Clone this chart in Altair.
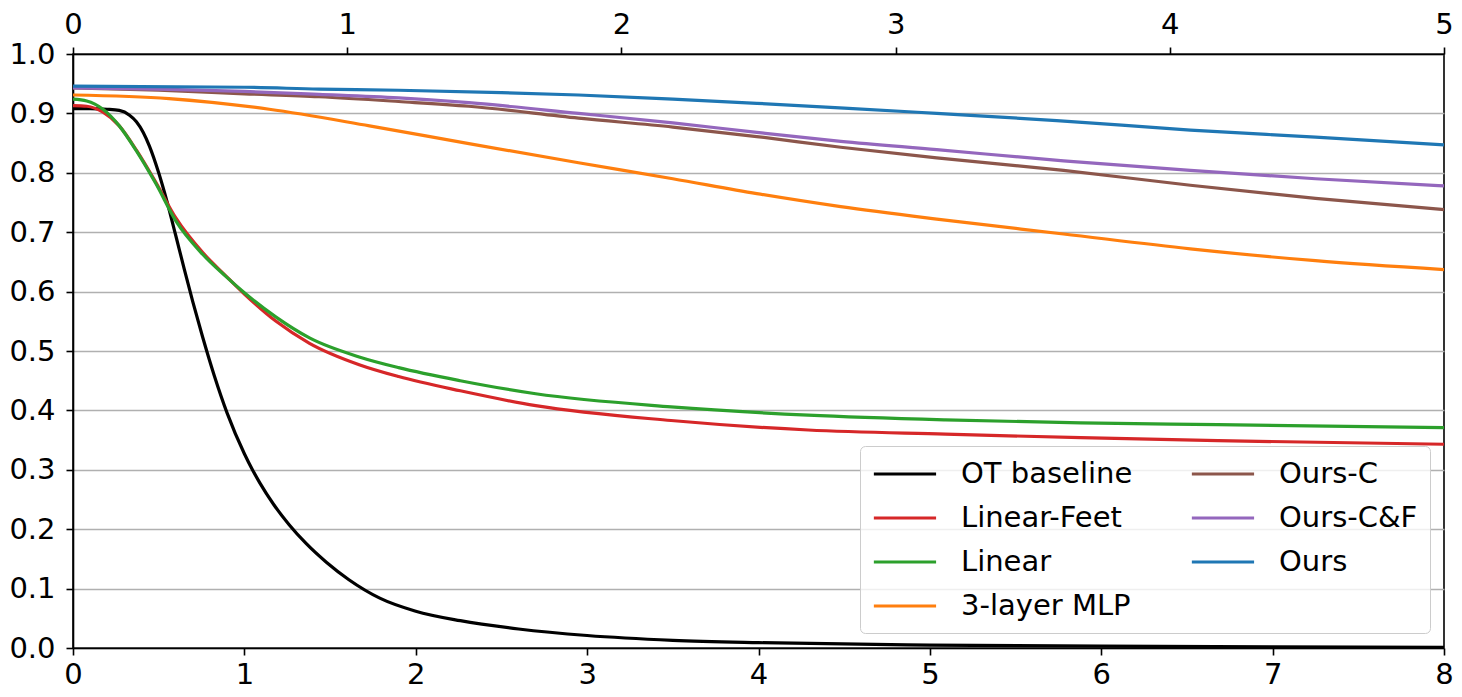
import altair as alt
import pandas as pd

# ---- data ----
series_names = ["OT baseline", "Linear-Feet", "Linear", "3-layer MLP", "Ours-C", "Ours-C&F", "Ours"]
series_colors = ["#000000", "#d62728", "#2ca02c", "#ff7f0e", "#8c564b", "#9467bd", "#1f77b4"]

ot_x = [0, 0.1, 0.2, 0.27, 0.33, 0.37, 0.41, 0.446, 0.5, 0.55, 0.60, 0.65, 0.70, 0.756, 0.825,
        0.90, 1.0, 1.047, 1.09, 1.17, 1.26, 1.36, 1.48, 1.61, 1.79, 2.0, 2.26, 2.6, 3.0, 3.5,
        4.0, 5.0, 6.0, 7.0, 8.0]
ot_y = [0.908, 0.908, 0.907, 0.905, 0.897, 0.886, 0.868, 0.845, 0.800, 0.750, 0.694, 0.637, 0.582,
        0.524, 0.458, 0.395, 0.327, 0.300, 0.278, 0.242, 0.208, 0.176, 0.144, 0.115, 0.084, 0.062,
        0.046, 0.032, 0.021, 0.013, 0.009, 0.005, 0.003, 0.002, 0.001]

lin_x = [0, 0.08, 0.175, 0.27, 0.37, 0.485, 0.60, 0.756, 0.89, 1.0, 1.185, 1.38, 1.67, 1.90,
         2.26, 2.70, 3.49, 4.29, 5.09, 5.88, 6.68, 8.0]
linfeet_y = [0.913, 0.912, 0.902, 0.879, 0.838, 0.783, 0.724, 0.666, 0.627, 0.596, 0.550, 0.513,
             0.477, 0.457, 0.433, 0.408, 0.383, 0.367, 0.360, 0.354, 0.349, 0.343]
linear_y = [0.924, 0.921, 0.907, 0.879, 0.837, 0.781, 0.719, 0.663, 0.626, 0.598, 0.557, 0.522,
            0.490, 0.472, 0.450, 0.428, 0.406, 0.392, 0.384, 0.379, 0.376, 0.371]

mlp_x = [0, 0.56, 1.145, 1.73, 2.31, 2.95, 3.5, 3.99, 4.48, 5.04, 5.78, 6.52, 7.25, 8.0]
mlp_y = [0.931, 0.925, 0.907, 0.879, 0.849, 0.817, 0.790, 0.765, 0.743, 0.722, 0.697, 0.672, 0.652, 0.637]

oursc_x = [0, 0.5, 1.0, 1.435, 1.9, 2.31, 2.95, 3.5, 3.99, 4.48, 5.04, 5.78, 6.52, 7.25, 8.0]
oursc_y = [0.943, 0.939, 0.933, 0.928, 0.920, 0.912, 0.892, 0.877, 0.861, 0.843, 0.825, 0.804,
           0.779, 0.757, 0.738]
ourscf_y = [0.943, 0.941, 0.937, 0.932, 0.926, 0.918, 0.900, 0.884, 0.868, 0.853, 0.839, 0.820,
            0.804, 0.790, 0.778]

ours_x = [0, 1.0, 1.435, 1.9, 2.5, 2.95, 3.5, 3.99, 4.5, 5.04, 5.74, 6.52, 7.25, 8.0]
ours_y = [0.946, 0.944, 0.941, 0.939, 0.935, 0.931, 0.924, 0.917, 0.909, 0.900, 0.888, 0.872,
          0.860, 0.847]

bottom_ticks = [0, 1, 2, 3, 4, 5, 6, 7, 8]
top_ticks = [0, 1, 2, 3, 4, 5]
y_ticks = [0.0, 0.1, 0.2, 0.3, 0.4, 0.5, 0.6, 0.7, 0.8, 0.9, 1.0]

# ---- build long table ----
pairs = {
    "OT baseline": (ot_x, ot_y),
    "Linear-Feet": (lin_x, linfeet_y),
    "Linear": (lin_x, linear_y),
    "3-layer MLP": (mlp_x, mlp_y),
    "Ours-C": (oursc_x, oursc_y),
    "Ours-C&F": (oursc_x, ourscf_y),
    "Ours": (ours_x, ours_y),
}
rows = []
for name in series_names:
    xs, ys = pairs[name]
    for xv, yv in zip(xs, ys):
        rows.append({"x": xv, "y": yv, "series": name})
df = pd.DataFrame(rows)

color_scale = alt.Scale(domain=series_names, range=series_colors)

legend = alt.Legend(
    title=None, orient="none", legendX=787, legendY=392, direction="vertical", columns=2,
    symbolType="M-1,0H3.4", symbolStrokeWidth=3, symbolSize=800, symbolOpacity=1,
    labelFont="DejaVu Sans", labelFontSize=29, labelColor="black", labelOffset=57, labelLimit=500,
    rowPadding=13, columnPadding=52, padding=12,
    strokeColor="#cccccc", fillColor="rgba(255,255,255,0.8)", cornerRadius=5,
)

x_axis = alt.Axis(values=bottom_ticks, grid=False, labelFlush=False, labelOverlap=False,
                  format="d", title=None, labelPadding=5)
y_axis = alt.Axis(values=y_ticks, format=".1f", grid=True, gridColor="#b0b0b0", gridWidth=1.6,
                  labelOverlap=False, labelFlush=False, title=None, labelPadding=11)

base = alt.Chart(df)
line_layers = []
for name in series_names:
    line_layers.append(
        base.transform_filter(alt.datum.series == name)
        .mark_line(strokeWidth=3.2, interpolate="monotone")
        .encode(
            x=alt.X("x:Q", scale=alt.Scale(domain=[0, 8], nice=False), axis=x_axis),
            y=alt.Y("y:Q", scale=alt.Scale(domain=[0, 1], nice=False), axis=y_axis),
            color=alt.Color("series:N", scale=color_scale, legend=legend),
        )
    )
lines = alt.layer(*line_layers)

top_df = pd.DataFrame({"t": top_ticks})
top_axis = alt.Chart(top_df).mark_point(opacity=0).encode(
    x=alt.X("t:Q", scale=alt.Scale(domain=[0, 5], nice=False),
            axis=alt.Axis(orient="top", values=top_ticks, grid=False, labelFlush=False,
                          labelOverlap=False, format="d", title=None, labelPadding=8))
)

chart = (
    alt.layer(lines, top_axis)
    .resolve_scale(x="independent")
    .properties(width=1371, height=594,
                padding={"left": 65, "top": 46, "right": 10, "bottom": 41},
                autosize=alt.AutoSizeParams(type="none"),
                background="white")
    .configure_view(stroke="black", strokeWidth=1.6)
    .configure_axis(domainColor="black", domainWidth=1.6, tickColor="black", tickWidth=1.6,
                    tickSize=7, labelFont="DejaVu Sans", labelFontSize=29, labelColor="black")
)

chart.save("out.html", embed_options={"renderer": "svg", "actions": False})
